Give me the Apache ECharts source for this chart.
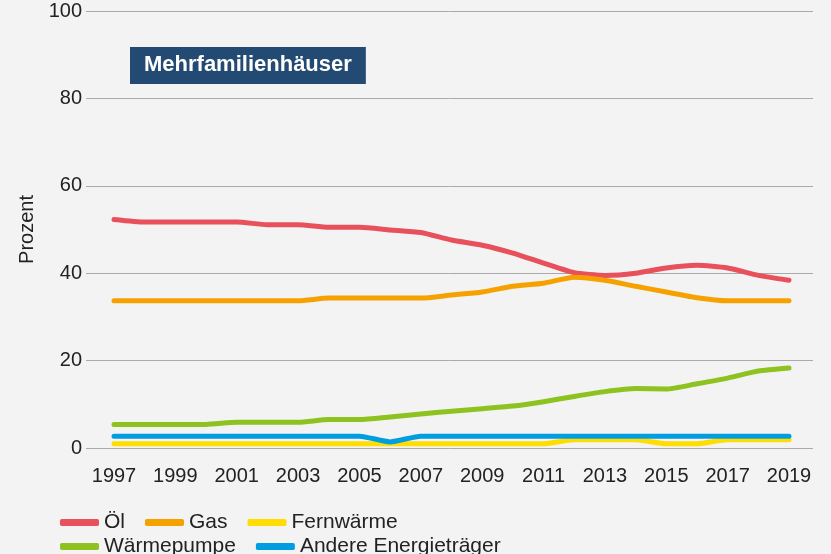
<!DOCTYPE html>
<html>
<head>
<meta charset="utf-8">
<script src="https://cdn.jsdelivr.net/npm/echarts@6/dist/echarts.min.js"></script>
<style>
  html, body { margin: 0; padding: 0; background: #f3f3f3; }
  #main { width: 831px; height: 554px; }
</style>
</head>
<body>
<div id="main"></div>
<script>
// Jahre und Anteile (Prozent)
const years = ['1997','1998','1999','2000','2001','2002','2003','2004','2005','2006','2007','2008',
  '2009','2010','2011','2012','2013','2014','2015','2016','2017','2018','2019'];
const oel = [52.3, 51.7, 51.7, 51.7, 51.7, 51.1, 51.1, 50.5, 50.5, 49.9, 49.3, 47.6,
  46.4, 44.6, 42.3, 40.1, 39.5, 40.0, 41.2, 41.8, 41.2, 39.5, 38.4];
const gas = [33.7, 33.7, 33.7, 33.7, 33.7, 33.7, 33.7, 34.3, 34.3, 34.3, 34.3, 35.0,
  35.7, 37.0, 37.7, 39.1, 38.4, 37.0, 35.7, 34.4, 33.7, 33.7, 33.7];
const fernwaerme = [1.0, 1.0, 1.0, 1.0, 1.0, 1.0, 1.0, 1.0, 1.0, 1.0, 1.0, 1.0,
  1.0, 1.0, 1.0, 1.9, 1.9, 1.9, 1.0, 1.0, 1.9, 1.9, 1.9];
const waermepumpe = [5.4, 5.4, 5.4, 5.4, 5.9, 5.9, 5.9, 6.5, 6.5, 7.1, 7.8, 8.4,
  9.0, 9.6, 10.6, 11.8, 12.9, 13.6, 13.5, 14.7, 16.0, 17.6, 18.3];
const andere = [2.7, 2.7, 2.7, 2.7, 2.7, 2.7, 2.7, 2.7, 2.7, 1.4, 2.7, 2.7,
  2.7, 2.7, 2.7, 2.7, 2.7, 2.7, 2.7, 2.7, 2.7, 2.7, 2.7];
const yTicks = [0, 20, 40, 60, 80, 100];

const chart = echarts.init(document.getElementById('main'));
const FONT = 'Liberation Sans';
const TXT = '#222222';

function line(name, data, color) {
  return {
    name: name,
    type: 'line',
    xAxisIndex: 1,
    yAxisIndex: 1,
    data: data,
    showSymbol: false,
    symbol: 'none',
    smooth: 0.2,
    lineStyle: { color: color, width: 5, cap: 'round', join: 'round' },
    itemStyle: { color: color }
  };
}

const legendBase = {
  left: 55,
  icon: 'roundRect',
  itemWidth: 39,
  itemHeight: 7,
  itemGap: 20,
  textStyle: { fontFamily: FONT, fontSize: 21, color: TXT }
};

const option = {
  backgroundColor: '#f3f3f3',
  animation: false,
  title: {
    text: 'Mehrfamilienhäuser',
    left: 130,
    top: 47,
    backgroundColor: '#224a73',
    padding: [7, 14, 8, 14],
    textStyle: { fontFamily: FONT, fontSize: 22, fontWeight: 'bold', color: '#ffffff' }
  },
  legend: [
    Object.assign({}, legendBase, { top: 507, data: ['Öl', 'Gas', 'Fernwärme'] }),
    Object.assign({}, legendBase, { top: 531, data: ['Wärmepumpe', 'Andere Energieträger'] })
  ],
  grid: [
    { left: 86, right: 18, top: 11, bottom: 106 },
    { left: 114, right: 42, top: 11, bottom: 106 }
  ],
  xAxis: [
    { gridIndex: 0, type: 'value', min: 0, max: 1, show: false },
    {
      gridIndex: 1,
      type: 'category',
      data: years,
      boundaryGap: false,
      axisLine: { show: false },
      axisTick: { show: false },
      axisLabel: { interval: 1, margin: 18, fontFamily: FONT, fontSize: 20, color: TXT }
    }
  ],
  yAxis: [
    {
      gridIndex: 0,
      type: 'value',
      min: yTicks[0],
      max: yTicks[yTicks.length - 1],
      interval: 20,
      name: 'Prozent',
      nameLocation: 'middle',
      nameGap: 49,
      nameTextStyle: { fontFamily: FONT, fontSize: 20, color: TXT },
      axisLine: { show: false },
      axisTick: { show: false },
      axisLabel: { margin: 4, fontFamily: FONT, fontSize: 20, color: TXT },
      splitLine: { lineStyle: { color: '#aaaaaa', width: 1 } }
    },
    { gridIndex: 1, type: 'value', min: 0, max: 100, show: false, splitLine: { show: false } }
  ],
  series: [
    line('Öl', oel, '#e8505b'),
    line('Gas', gas, '#f5a200'),
    line('Fernwärme', fernwaerme, '#ffdd00'),
    line('Wärmepumpe', waermepumpe, '#8dc21f'),
    line('Andere Energieträger', andere, '#009ee0')
  ]
};

chart.setOption(option);
</script>
</body>
</html>
